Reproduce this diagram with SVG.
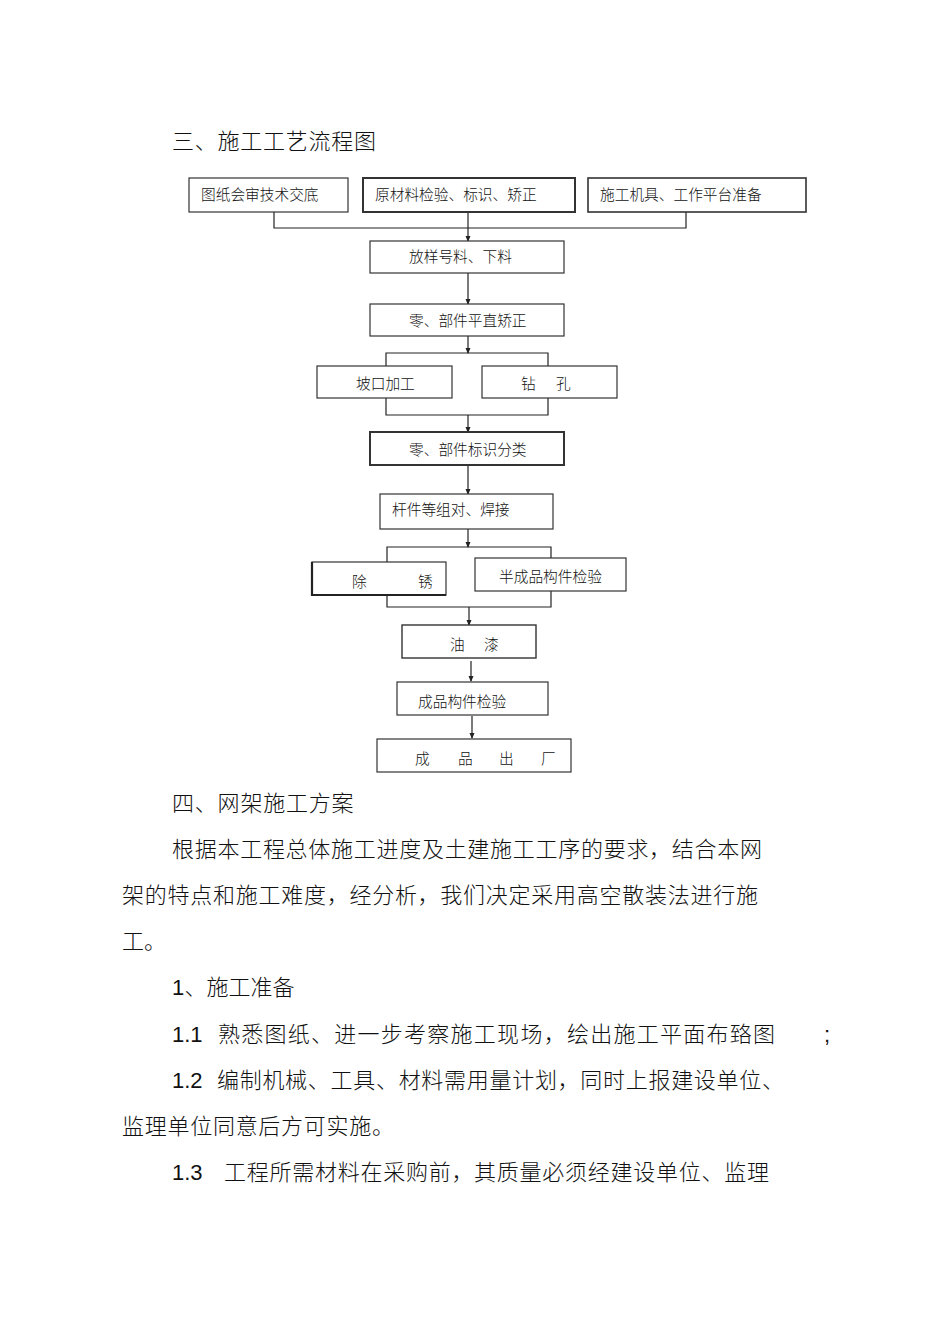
<svg xmlns="http://www.w3.org/2000/svg" width="950" height="1343" viewBox="0 0 950 1343">
<style>
.doc{font-family:"Liberation Sans","Noto Sans CJK SC",sans-serif;font-size:22px;font-weight:300;fill:#111}
.lbl{font-family:"Liberation Sans","Noto Sans CJK SC",sans-serif;font-size:14.7px;font-weight:300;fill:#111}
.box{fill:#fff;stroke:#333;stroke-width:1.2}
.thick{stroke-width:2}
.conn{fill:none;stroke:#222;stroke-width:1.2}
</style>
<defs>
<marker id="ah" markerUnits="userSpaceOnUse" markerWidth="6" markerHeight="6" refX="5" refY="3" orient="auto" viewBox="0 0 6 6">
<path d="M0,0.5 L6,3 L0,5.5 Z" fill="#222"/>
</marker>
</defs>
<rect width="950" height="1343" fill="#fff"/>

<text class="doc" x="172" y="149" textLength="204" lengthAdjust="spacing">三、施工工艺流程图</text>

<g id="connectors">
<path class="conn" d="M274 212 V228 H686 V212"/>
<path class="conn" d="M468 212 V241" marker-end="url(#ah)"/>
<path class="conn" d="M468 273 V304" marker-end="url(#ah)"/>
<path class="conn" d="M468 336 V353" marker-end="url(#ah)"/>
<path class="conn" d="M386 366 V353 H548 V366"/>
<path class="conn" d="M386 398 V415 H548 V398"/>
<path class="conn" d="M468 415 V432" marker-end="url(#ah)"/>
<path class="conn" d="M468 465 V494" marker-end="url(#ah)"/>
<path class="conn" d="M468 529 V547" marker-end="url(#ah)"/>
<path class="conn" d="M387 562 V547 H551 V558"/>
<path class="conn" d="M387 595 V607 H551 V591"/>
<path class="conn" d="M469 607 V625" marker-end="url(#ah)"/>
<path class="conn" d="M471 661 V681" marker-end="url(#ah)"/>
<path class="conn" d="M472 716 V738" marker-end="url(#ah)"/>
</g>

<g id="n1"><rect class="box" x="189" y="178" width="159" height="34"/><text class="lbl" x="201" y="200">图纸会审技术交底</text></g>
<g id="n2"><rect class="box thick" x="363" y="178" width="212" height="34"/><text class="lbl" x="375" y="200">原材料检验、标识、矫正</text></g>
<g id="n3"><rect class="box" x="588" y="178" width="218" height="34" style="stroke-width:1.6"/><text class="lbl" x="600" y="200">施工机具、工作平台准备</text></g>
<g id="n4"><rect class="box" x="370" y="241" width="194" height="32"/><text class="lbl" x="409" y="262">放样号料、下料</text></g>
<g id="n5"><rect class="box" x="370" y="304" width="194" height="32"/><text class="lbl" x="409" y="326">零、部件平直矫正</text></g>
<g id="n6"><rect class="box" x="317" y="366" width="135" height="32"/><text class="lbl" x="356" y="389">坡口加工</text></g>
<g id="n7"><rect class="box" x="482" y="366" width="135" height="32"/><text class="lbl" y="389"><tspan x="521">钻</tspan><tspan x="556">孔</tspan></text></g>
<g id="n8"><rect class="box thick" x="370" y="432" width="194" height="33"/><text class="lbl" x="409" y="455">零、部件标识分类</text></g>
<g id="n9"><rect class="box" x="380" y="494" width="173" height="35"/><text class="lbl" x="392" y="515">杆件等组对、焊接</text></g>
<g id="n10"><rect class="box" x="312" y="562" width="134" height="33"/><path d="M312 562 V595 H446" fill="none" stroke="#222" stroke-width="2.2"/><text class="lbl" y="587"><tspan x="352">除</tspan><tspan x="418">锈</tspan></text></g>
<g id="n11"><rect class="box" x="475" y="558" width="151" height="33"/><text class="lbl" x="499" y="582">半成品构件检验</text></g>
<g id="n12"><rect class="box" x="402" y="625" width="134" height="33" style="stroke-width:1.4"/><text class="lbl" y="650"><tspan x="450">油</tspan><tspan x="484">漆</tspan></text></g>
<g id="n13"><rect class="box" x="397" y="682" width="151" height="33"/><text class="lbl" x="418" y="707">成品构件检验</text></g>
<g id="n14"><rect class="box" x="377" y="739" width="194" height="33"/><text class="lbl" y="764"><tspan x="415">成</tspan><tspan x="458">品</tspan><tspan x="499">出</tspan><tspan x="541">厂</tspan></text></g>

<g id="body">
<text class="doc" x="172" y="811" textLength="181.6" lengthAdjust="spacing">四、网架施工方案</text>
<text class="doc" x="172" y="857" textLength="590" lengthAdjust="spacing">根据本工程总体施工进度及土建施工工序的要求，结合本网</text>
<text class="doc" x="122" y="903" textLength="636" lengthAdjust="spacing">架的特点和施工难度，经分析，我们决定采用高空散装法进行施</text>
<text class="doc" x="122" y="949">工。</text>
<text class="doc" x="172" y="995">1<tspan x="184.5">、施工准备</tspan></text>
<text class="doc" x="172" y="1042">1.1</text>
<text class="doc" x="218" y="1042" textLength="557" lengthAdjust="spacing">熟悉图纸、进一步考察施工现场，绘出施工平面布臵图</text>
<text class="doc" x="824" y="1042">;</text>
<text class="doc" x="172" y="1088">1.2</text>
<text class="doc" x="217" y="1088" textLength="567" lengthAdjust="spacing">编制机械、工具、材料需用量计划，同时上报建设单位、</text>
<text class="doc" x="122" y="1134" textLength="272" lengthAdjust="spacing">监理单位同意后方可实施。</text>
<text class="doc" x="172" y="1180">1.3</text>
<text class="doc" x="224" y="1180" textLength="545" lengthAdjust="spacing">工程所需材料在采购前，其质量必须经建设单位、监理</text>
</g>
</svg>
